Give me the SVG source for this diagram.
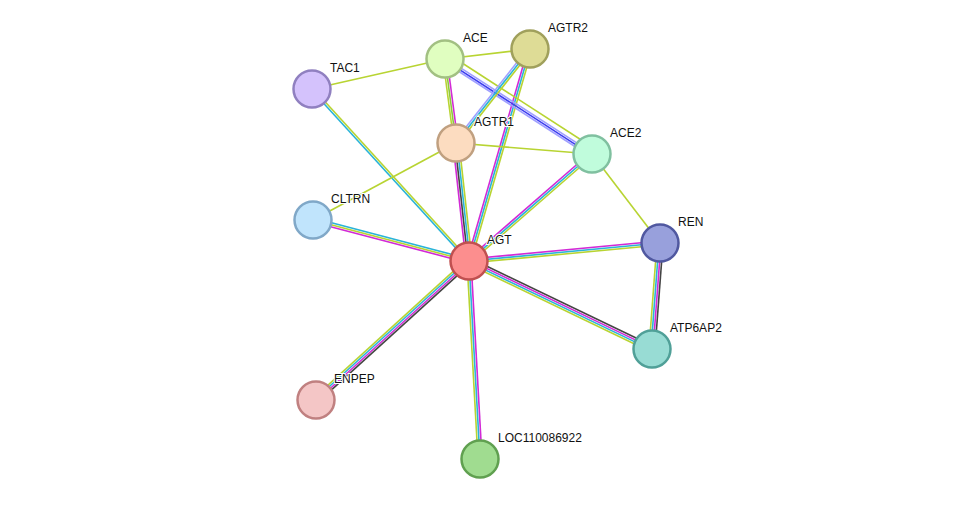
<svg xmlns="http://www.w3.org/2000/svg" width="976" height="505" viewBox="0 0 976 505">
<style>
line{stroke-width:1.6;fill:none}
.y{stroke:#b8d432}.m{stroke:#d22ad6}.c{stroke:#2ab4d8}.k{stroke:#444}.b{stroke:#3c3cf0}.lb{stroke:#a0a0ff}.g{stroke:#8cc83c}
circle{stroke-width:2.5}
text{font-family:"Liberation Sans",Arial,sans-serif;font-size:12px;fill:#111;paint-order:stroke;stroke:#fff;stroke-width:2px}
</style>
<rect width="976" height="505" fill="#fff"/>
<g id="connectors">
<!-- AGT-AGTR1 -->
<line class="m" x1="469" y1="261" x2="456" y2="143" transform="translate(-3,0.33)"/>
<line class="k" x1="469" y1="261" x2="456" y2="143" transform="translate(-1,0.11)"/>
<line class="c" x1="469" y1="261" x2="456" y2="143" transform="translate(1,-0.11)"/>
<line class="y" x1="469" y1="261" x2="456" y2="143" transform="translate(3,-0.33)"/>
<!-- ACE-AGTR1 -->
<line class="m" x1="445" y1="59" x2="456" y2="143" transform="translate(2,-0.26)"/>
<line class="g" x1="445" y1="59" x2="456" y2="143" transform="translate(0,0)"/>
<line class="y" x1="445" y1="59" x2="456" y2="143" transform="translate(-2,0.26)"/>
<!-- AGT-AGTR2 -->
<line class="m" x1="469" y1="261" x2="530" y2="49" transform="translate(-1.92,-0.56)"/>
<line class="c" x1="469" y1="261" x2="530" y2="49" transform="translate(0,0)"/>
<line class="y" x1="469" y1="261" x2="530" y2="49" transform="translate(1.92,0.56)"/>
<!-- AGT-ACE2 -->
<line class="m" x1="469" y1="261" x2="592" y2="154" transform="translate(-1.32,-1.5)"/>
<line class="c" x1="469" y1="261" x2="592" y2="154" transform="translate(0,0)"/>
<line class="y" x1="469" y1="261" x2="592" y2="154" transform="translate(1.32,1.5)"/>
<!-- AGT-REN -->
<line class="m" x1="469" y1="261" x2="660" y2="243" transform="translate(-0.18,-1.98)"/>
<line class="c" x1="469" y1="261" x2="660" y2="243" transform="translate(0,0)"/>
<line class="y" x1="469" y1="261" x2="660" y2="243" transform="translate(0.18,1.98)"/>
<!-- AGT-ATP6AP2 -->
<line class="k" x1="469" y1="261" x2="652" y2="349" transform="translate(1.29,-2.7)"/>
<line class="m" x1="469" y1="261" x2="652" y2="349" transform="translate(0.43,-0.9)"/>
<line class="c" x1="469" y1="261" x2="652" y2="349" transform="translate(-0.43,0.9)"/>
<line class="y" x1="469" y1="261" x2="652" y2="349" transform="translate(-1.29,2.7)"/>
<!-- AGT-LOC -->
<line class="y" x1="469" y1="261" x2="480" y2="459" transform="translate(-2,0.12)"/>
<line class="c" x1="469" y1="261" x2="480" y2="459" transform="translate(0,0)"/>
<line class="m" x1="469" y1="261" x2="480" y2="459" transform="translate(2,-0.12)"/>
<!-- AGT-ENPEP -->
<line class="y" x1="469" y1="261" x2="316" y2="400" transform="translate(-2,-2.2)"/>
<line class="c" x1="469" y1="261" x2="316" y2="400" transform="translate(-0.67,-0.74)"/>
<line class="m" x1="469" y1="261" x2="316" y2="400" transform="translate(0.67,0.74)"/>
<line class="k" x1="469" y1="261" x2="316" y2="400" transform="translate(2,2.2)"/>
<!-- AGT-CLTRN -->
<line class="c" x1="469" y1="261" x2="313" y2="220" transform="translate(0.5,-1.94)"/>
<line class="y" x1="469" y1="261" x2="313" y2="220" transform="translate(0,0)"/>
<line class="m" x1="469" y1="261" x2="313" y2="220" transform="translate(-0.5,1.94)"/>
<!-- AGT-TAC1 -->
<line class="c" x1="469" y1="261" x2="312" y2="89" transform="translate(-0.74,0.67)"/>
<line class="y" x1="469" y1="261" x2="312" y2="89" transform="translate(0.74,-0.67)"/>
<!-- singles -->
<line class="y" x1="456" y1="143" x2="313" y2="220"/>
<line class="y" x1="445" y1="59" x2="312" y2="89"/>
<line class="y" x1="445" y1="59" x2="530" y2="49"/>
<line class="y" x1="456" y1="143" x2="592" y2="154"/>
<line class="y" x1="592" y1="154" x2="660" y2="243"/>
<!-- ACE-ACE2 -->
<line class="lb" x1="445" y1="59" x2="592" y2="154" transform="translate(-1.62,2.52)"/>
<line class="b" x1="445" y1="59" x2="592" y2="154" transform="translate(-0.54,0.84)"/>
<line class="lb" x1="445" y1="59" x2="592" y2="154" transform="translate(0.54,-0.84)"/>
<line class="y" x1="445" y1="59" x2="592" y2="154" transform="translate(3.2,-5)"/>
<!-- AGTR2-AGTR1 -->
<line class="lb" x1="530" y1="49" x2="456" y2="143" transform="translate(-1.56,-1.24)"/>
<line class="c" x1="530" y1="49" x2="456" y2="143" transform="translate(0,0)"/>
<line class="y" x1="530" y1="49" x2="456" y2="143" transform="translate(1.56,1.24)"/>
<!-- REN-ATP6AP2 -->
<line class="y" x1="660" y1="243" x2="652" y2="349" transform="translate(-3,-0.24)"/>
<line class="c" x1="660" y1="243" x2="652" y2="349" transform="translate(-1,-0.08)"/>
<line class="m" x1="660" y1="243" x2="652" y2="349" transform="translate(1,0.08)"/>
<line class="k" x1="660" y1="243" x2="652" y2="349" transform="translate(3,0.24)"/>
</g>
<g id="ACE"><circle cx="445" cy="59" r="18.5" fill="#e0fec0" stroke="#a2c082"/><text x="463" y="42">ACE</text></g>
<g id="AGTR2"><circle cx="530" cy="49" r="18.5" fill="#dedc96" stroke="#a0a05c"/><text x="548" y="32">AGTR2</text></g>
<g id="TAC1"><circle cx="312" cy="89" r="18.5" fill="#d4c2fc" stroke="#9080c0"/><text x="330" y="72">TAC1</text></g>
<g id="AGTR1"><circle cx="456" cy="143" r="18.5" fill="#fcdcc0" stroke="#c0a080"/><text x="474" y="126">AGTR1</text></g>
<g id="ACE2"><circle cx="592" cy="154" r="18.5" fill="#c0fcdc" stroke="#80c0a0"/><text x="610" y="137">ACE2</text></g>
<g id="CLTRN"><circle cx="313" cy="220" r="18.5" fill="#c0e4fc" stroke="#80a8c8"/><text x="331" y="203">CLTRN</text></g>
<g id="AGT"><circle cx="469" cy="261" r="18.5" fill="#fc8e8e" stroke="#c05050"/><text x="487" y="244">AGT</text></g>
<g id="REN"><circle cx="660" cy="243" r="18.5" fill="#98a0dc" stroke="#5058a0"/><text x="678" y="226">REN</text></g>
<g id="ATP6AP2"><circle cx="652" cy="349" r="18.5" fill="#98dcd4" stroke="#50a098"/><text x="670" y="332">ATP6AP2</text></g>
<g id="ENPEP"><circle cx="316" cy="400" r="18.5" fill="#f4c6c6" stroke="#c08080"/><text x="334" y="383">ENPEP</text></g>
<g id="LOC110086922"><circle cx="480" cy="459" r="18.5" fill="#a0dc90" stroke="#60a050"/><text x="498" y="442">LOC110086922</text></g>
</svg>
